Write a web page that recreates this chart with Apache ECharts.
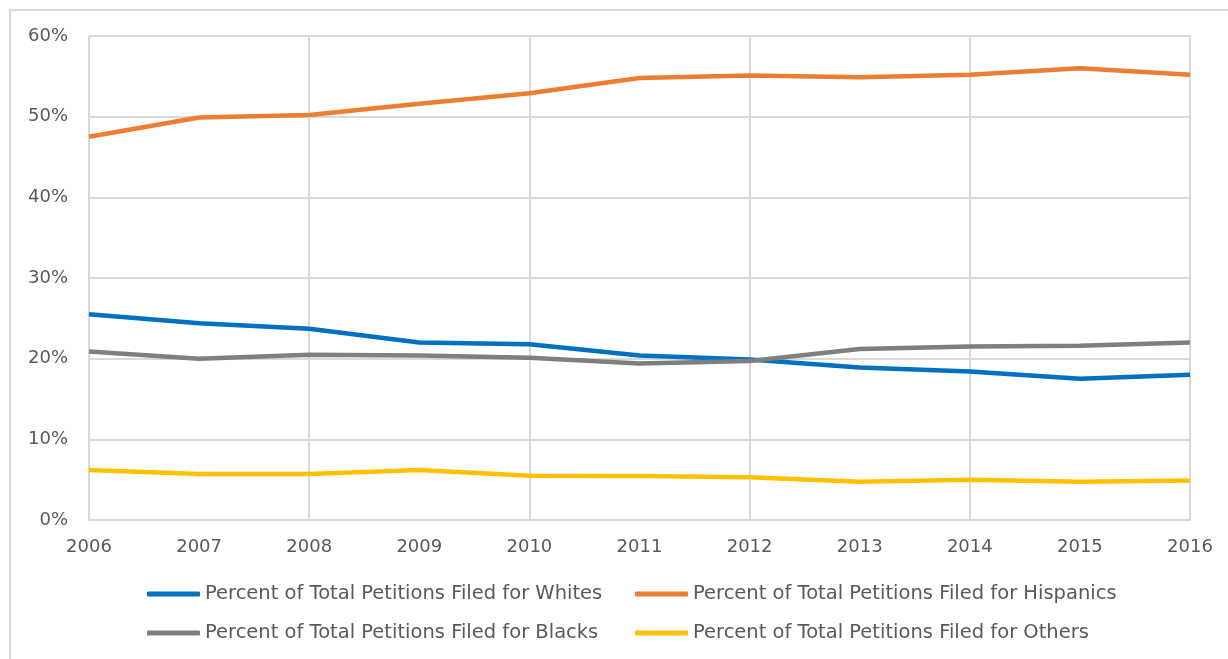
<!DOCTYPE html>
<html>
<head>
<meta charset="utf-8">
<title>Petitions filed by group</title>
<script src="https://cdn.jsdelivr.net/npm/echarts@6/dist/echarts.min.js"></script>
<style>
  html, body { margin: 0; padding: 0; background: #fff; }
  #chart { width: 1228px; height: 659px; }
</style>
</head>
<body>
<div id="chart"></div>
<script>
// values, in percent
var years = ['2006', '2007', '2008', '2009', '2010', '2011', '2012', '2013', '2014', '2015', '2016'];
var whites = [25.5, 24.4, 23.7, 22.0, 21.8, 20.4, 19.9, 18.9, 18.4, 17.5, 18.0];
var hispanics = [47.5, 49.9, 50.2, 51.6, 52.9, 54.8, 55.1, 54.9, 55.2, 56.0, 55.2];
var blacks = [20.9, 20.0, 20.5, 20.4, 20.1, 19.4, 19.7, 21.2, 21.5, 21.6, 22.0];
var others = [6.2, 5.7, 5.7, 6.2, 5.5, 5.45, 5.3, 4.75, 5.0, 4.75, 4.9];

var names = [
    'Percent of Total Petitions Filed for Whites',
    'Percent of Total Petitions Filed for Hispanics',
    'Percent of Total Petitions Filed for Blacks',
    'Percent of Total Petitions Filed for Others'
];
var colors = ['#0070C0', '#ED7D31', '#7F7F7F', '#FFC000'];

var textColor = '#595959';
var gridColor = '#D9D9D9';
var font = 'DejaVu Sans';

function lineSeries(i, data) {
    return {
        name: names[i],
        type: 'line',
        data: data,
        symbol: 'none',
        lineStyle: { width: 4.5, color: colors[i] },
        itemStyle: { color: colors[i] }
    };
}

// two legend columns, stacked vertically
function legendCol(left, items) {
    return {
        orient: 'vertical',
        left: left,
        top: 584,
        padding: 0,
        itemWidth: 53,
        itemHeight: 5,
        itemGap: 19,
        icon: 'roundRect',
        data: items,
        textStyle: { color: textColor, fontFamily: font, fontSize: 19.5, lineHeight: 20 }
    };
}

var chart = echarts.init(document.getElementById('chart'));
chart.setOption({
    animation: false,
    backgroundColor: '#fff',
    color: colors,
    graphic: [{
        type: 'rect',
        shape: { x: 10, y: 10, width: 1300, height: 700 },
        style: { fill: 'none', stroke: gridColor, lineWidth: 2 },
        silent: true
    }],
    grid: { left: 89, right: 38, top: 36, bottom: 139, containLabel: false },
    legend: [
        legendCol(147, [names[0], names[2]]),
        legendCol(635, [names[1], names[3]])
    ],
    xAxis: {
        type: 'category',
        data: years,
        boundaryGap: false,
        axisLine: { lineStyle: { color: gridColor, width: 2 } },
        axisTick: { show: false },
        axisLabel: { color: textColor, fontFamily: font, fontSize: 18, margin: 18, interval: 0 },
        splitLine: { show: true, interval: 1, lineStyle: { color: gridColor, width: 2 } }
    },
    yAxis: {
        type: 'value',
        min: 0,
        max: 60,
        interval: 10,
        axisLine: { show: false },
        axisTick: { show: false },
        axisLabel: { color: textColor, fontFamily: font, fontSize: 18, margin: 21, formatter: '{value}%' },
        splitLine: { lineStyle: { color: gridColor, width: 2 } }
    },
    series: [
        lineSeries(0, whites),
        lineSeries(1, hispanics),
        lineSeries(2, blacks),
        lineSeries(3, others)
    ]
});
</script>
</body>
</html>
